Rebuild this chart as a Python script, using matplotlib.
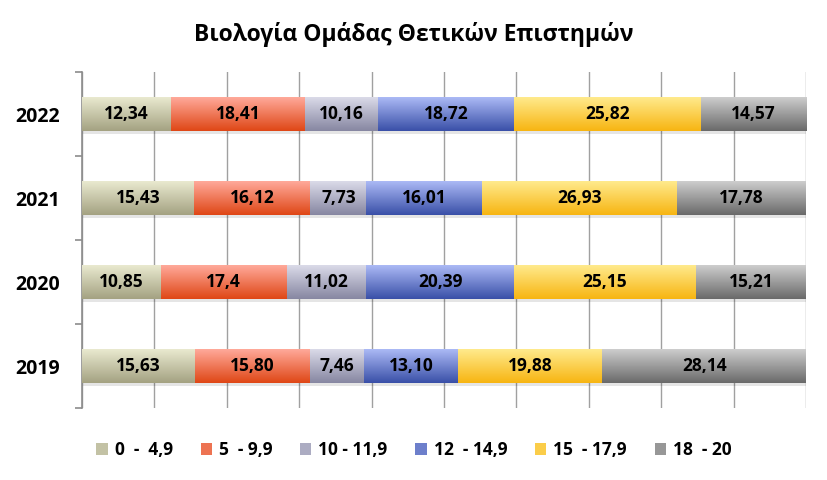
import numpy as np
import matplotlib.pyplot as plt
from matplotlib.colors import LinearSegmentedColormap
from matplotlib.patches import Patch

plt.rcParams['font.family'] = ['Open Sans', 'DejaVu Sans']

# Data
years = ['2019', '2020', '2021', '2022']
grades = ['0  -  4,9', '5  - 9,9', '10 - 11,9', '12  - 14,9', '15  - 17,9', '18  - 20']
g0_49 = [15.63, 10.85, 15.43, 12.34]
g5_99 = [15.80, 17.4, 16.12, 18.41]
g10_119 = [7.46, 11.02, 7.73, 10.16]
g12_149 = [13.10, 20.39, 16.01, 18.72]
g15_179 = [19.88, 25.15, 26.93, 25.82]
g18_20 = [28.14, 15.21, 17.78, 14.57]
label_text = [
    ['15,63', '10,85', '15,43', '12,34'],
    ['15,80', '17,4', '16,12', '18,41'],
    ['7,46', '11,02', '7,73', '10,16'],
    ['13,10', '20,39', '16,01', '18,72'],
    ['19,88', '25,15', '26,93', '25,82'],
    ['28,14', '15,21', '17,78', '14,57'],
]
series = [g0_49, g5_99, g10_119, g12_149, g15_179, g18_20]

# gradient colours (top, bottom)
grads = [('#e9e9cf', '#a4a282'), ('#ffa99a', '#df4716'), ('#dadae8', '#8787a2'),
         ('#abb9f5', '#3a50a8'), ('#ffea8c', '#f7b512'), ('#cdcdcd', '#6a6a6a')]

fig = plt.figure(figsize=(8.28, 4.8), dpi=100)
ax = fig.add_axes([0.099, 0.15, 0.8744, 0.70])

y = np.arange(len(years))
h = 0.40
ax.set_xlim(0, 100)
ax.set_ylim(-0.5, 3.5)

# shadow under each row
totals = np.sum(series, axis=0)
ax.barh(y - 0.035, totals, height=h, color='black', alpha=0.10, zorder=2, linewidth=0)

left = np.zeros(len(years))
for k, vals in enumerate(series):
    cmap = LinearSegmentedColormap.from_list('g%d' % k, [grads[k][1], grads[k][0]])
    bars = ax.barh(y, vals, left=left, height=h, color='none', linewidth=0, zorder=3)
    for i, b in enumerate(bars):
        x0, y0 = b.get_x(), b.get_y()
        grad = np.linspace(0, 1, 64).reshape(-1, 1)
        ax.imshow(grad, cmap=cmap, origin='lower', aspect='auto',
                  extent=[x0, x0 + b.get_width(), y0, y0 + b.get_height()], zorder=3)
        ax.text(x0 + b.get_width() / 2, y[i], label_text[k][i], ha='center', va='center',
                fontsize=12.5, fontweight='bold', color='black', zorder=4)
    left += np.array(vals)

ax.set_xlim(0, 100)
ax.set_ylim(-0.5, 3.5)

# grid
ax.set_xticks(np.arange(0, 101, 10))
ax.tick_params(axis='x', length=0, labelbottom=False)
ax.grid(axis='x', color='#a0a0a0', linewidth=1.0, zorder=0)
ax.set_axisbelow(True)

ax.set_yticks(np.arange(-0.5, 3.6, 1))
ax.set_yticklabels([])
ax.tick_params(axis='y', which='major', length=5, color='#8c8c8c', width=1.2)
ax.set_yticks(y, minor=True)
ax.set_yticklabels(years, minor=True, fontsize=14, fontweight='bold')
ax.tick_params(axis='y', which='minor', length=0, pad=16)

for s in ['top', 'right', 'bottom']:
    ax.spines[s].set_visible(False)
ax.spines['left'].set_color('#8c8c8c')
ax.spines['left'].set_linewidth(1.2)

fig.suptitle('Βιολογία Ομάδας Θετικών Επιστημών', fontsize=16.5, fontweight='bold', y=0.955)

handles = [Patch(facecolor=LinearSegmentedColormap.from_list('l', [g[1], g[0]])(0.45), edgecolor='none')
           for g in grads]
fig.legend(handles, grades, loc='center', bbox_to_anchor=(0.5, 0.062), ncol=6, frameon=False,
           prop={'weight': 'bold', 'size': 12.5}, handlelength=0.65, handleheight=0.65,
           handletextpad=0.4, columnspacing=1.6)

fig.savefig('out.png', dpi=100)
